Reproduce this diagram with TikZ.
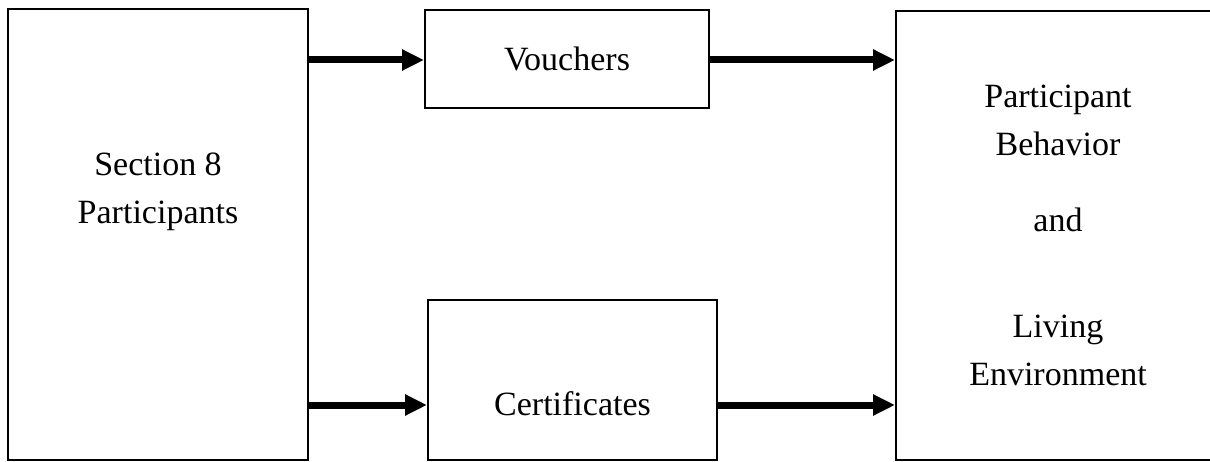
\documentclass[tikz,border=0pt]{standalone}
\usepackage{fontspec}
\setmainfont{Liberation Serif}
\usetikzlibrary{arrows.meta}
\tikzset{
  box/.style={draw,line width=2pt,inner sep=0pt},
  flow/.style={line width=7pt,-{Triangle[length=22pt,width=20pt]}},
  lbl/.style={align=center,font=\fontsize{34}{48}\selectfont,inner sep=0pt}
}
\begin{document}
\begin{tikzpicture}[x=1pt,y=-1pt]
  \useasboundingbox (0,0) rectangle (1210,462);
  \coordinate (toprow) at (0,60);
  \coordinate (lowrow) at (0,405);
  % boxes
  \node[box,minimum width=300pt,minimum height=451pt] (sec8) at (158,234.5) {};
  \node[box,minimum width=284pt,minimum height=98pt] (vouch) at (567,59) {};
  \node[box,minimum width=289pt,minimum height=160pt] (cert) at (572.5,380) {};
  \node[box,minimum width=319pt,minimum height=449pt] (env) at (1055.5,235.5) {};
  % texts
  \node[lbl] (sec8txt) at (158,192) {Section 8\\Participants};
  \node[lbl] (vouchtxt) at (vouch) {Vouchers};
  \node[lbl] (certtxt) at (572.5,404) {Certificates};
  \node[lbl] (envtop) at (1058,120) {Participant\\Behavior};
  \node[lbl] (envmid) at (1058,220) {and};
  \node[lbl] (envlow) at (1058,350) {Living\\Environment};
  % arrows
  \draw[flow] (sec8.east |- toprow) -- (vouch.west |- toprow);
  \draw[flow] (vouch.east |- toprow) -- (env.west |- toprow);
  \draw[flow] (sec8.east |- lowrow) -- (cert.west |- lowrow);
  \draw[flow] (cert.east |- lowrow) -- (env.west |- lowrow);
\end{tikzpicture}
\end{document}
